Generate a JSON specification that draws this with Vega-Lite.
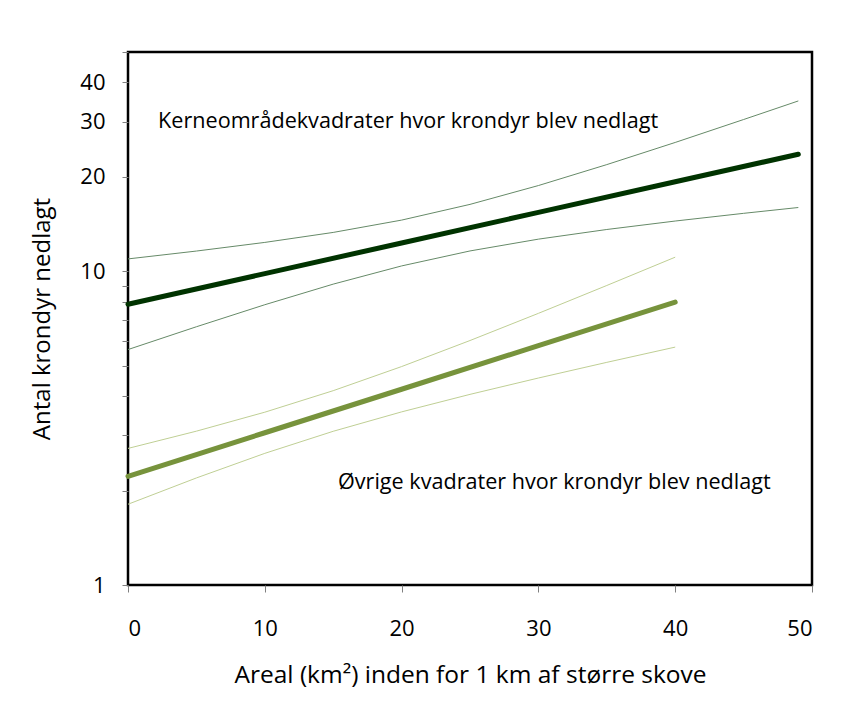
{
  "$schema": "https://vega.github.io/schema/vega-lite/v6.json",
  "width": 684,
  "height": 533,
  "autosize": {"type": "none"},
  "padding": {"left": 128, "top": 52, "right": 39, "bottom": 138},
  "background": "white",
  "config": {
    "view": {"stroke": "#000000", "strokeWidth": 2.5},
    "font": "Open Sans",
    "axis": {"labelFont": "Open Sans", "titleFont": "Open Sans", "labelColor": "#000000", "titleColor": "#000000", "titleFontWeight": "normal", "grid": false, "domain": false, "tickColor": "#808080", "tickWidth": 1}
  },
  "datasets": {
    "curves": [
      {"group": "kerne", "band": "fit", "x": 0, "y": 7.85},
      {"group": "kerne", "band": "fit", "x": 10, "y": 9.83},
      {"group": "kerne", "band": "fit", "x": 20, "y": 12.31},
      {"group": "kerne", "band": "fit", "x": 30, "y": 15.41},
      {"group": "kerne", "band": "fit", "x": 40, "y": 19.29},
      {"group": "kerne", "band": "fit", "x": 49, "y": 23.61},
      {"group": "kerne", "band": "upper", "x": 0, "y": 10.95},
      {"group": "kerne", "band": "upper", "x": 5, "y": 11.6},
      {"group": "kerne", "band": "upper", "x": 10, "y": 12.36},
      {"group": "kerne", "band": "upper", "x": 15, "y": 13.3},
      {"group": "kerne", "band": "upper", "x": 20, "y": 14.56},
      {"group": "kerne", "band": "upper", "x": 25, "y": 16.34},
      {"group": "kerne", "band": "upper", "x": 30, "y": 18.76},
      {"group": "kerne", "band": "upper", "x": 35, "y": 21.88},
      {"group": "kerne", "band": "upper", "x": 40, "y": 25.74},
      {"group": "kerne", "band": "upper", "x": 45, "y": 30.46},
      {"group": "kerne", "band": "upper", "x": 49, "y": 34.91},
      {"group": "kerne", "band": "lower", "x": 0, "y": 5.63},
      {"group": "kerne", "band": "lower", "x": 5, "y": 6.655},
      {"group": "kerne", "band": "lower", "x": 10, "y": 7.823},
      {"group": "kerne", "band": "lower", "x": 15, "y": 9.1},
      {"group": "kerne", "band": "lower", "x": 20, "y": 10.4},
      {"group": "kerne", "band": "lower", "x": 25, "y": 11.61},
      {"group": "kerne", "band": "lower", "x": 30, "y": 12.66},
      {"group": "kerne", "band": "lower", "x": 35, "y": 13.59},
      {"group": "kerne", "band": "lower", "x": 40, "y": 14.46},
      {"group": "kerne", "band": "lower", "x": 45, "y": 15.3},
      {"group": "kerne", "band": "lower", "x": 49, "y": 15.97},
      {"group": "oevrige", "band": "fit", "x": 0, "y": 2.22},
      {"group": "oevrige", "band": "fit", "x": 10, "y": 3.057},
      {"group": "oevrige", "band": "fit", "x": 20, "y": 4.207},
      {"group": "oevrige", "band": "fit", "x": 30, "y": 5.791},
      {"group": "oevrige", "band": "fit", "x": 40, "y": 7.973},
      {"group": "oevrige", "band": "upper", "x": 0, "y": 2.725},
      {"group": "oevrige", "band": "upper", "x": 5, "y": 3.093},
      {"group": "oevrige", "band": "upper", "x": 10, "y": 3.555},
      {"group": "oevrige", "band": "upper", "x": 15, "y": 4.163},
      {"group": "oevrige", "band": "upper", "x": 20, "y": 4.969},
      {"group": "oevrige", "band": "upper", "x": 25, "y": 6.016},
      {"group": "oevrige", "band": "upper", "x": 30, "y": 7.343},
      {"group": "oevrige", "band": "upper", "x": 35, "y": 9.011},
      {"group": "oevrige", "band": "upper", "x": 40, "y": 11.09},
      {"group": "oevrige", "band": "lower", "x": 0, "y": 1.809},
      {"group": "oevrige", "band": "lower", "x": 5, "y": 2.194},
      {"group": "oevrige", "band": "lower", "x": 10, "y": 2.628},
      {"group": "oevrige", "band": "lower", "x": 15, "y": 3.09},
      {"group": "oevrige", "band": "lower", "x": 20, "y": 3.563},
      {"group": "oevrige", "band": "lower", "x": 25, "y": 4.052},
      {"group": "oevrige", "band": "lower", "x": 30, "y": 4.568},
      {"group": "oevrige", "band": "lower", "x": 35, "y": 5.125},
      {"group": "oevrige", "band": "lower", "x": 40, "y": 5.732}
    ],
    "labels": [
      {"label": "Kerneområdekvadrater hvor krondyr blev nedlagt", "x": 2.2, "y": 30},
      {"label": "Øvrige kvadrater hvor krondyr blev nedlagt", "x": 15.35, "y": 2.11}
    ]
  },
  "layer": [
    {
      "data": {"name": "curves"},
      "transform": [{"filter": "datum.band !== 'fit'"}],
      "mark": {"type": "line", "strokeWidth": 1, "clip": true},
      "encoding": {
        "x": {"field": "x", "type": "quantitative", "scale": {"domain": [0, 50], "nice": false},
          "axis": {"values": [0, 10, 20, 30, 40, 50], "title": "Areal (km²) inden for 1 km af større skove", "labelFontSize": 22, "titleFontSize": 24.5, "tickSize": 7, "labelPadding": 26, "titlePadding": 24}},
        "y": {"field": "y", "type": "quantitative", "scale": {"type": "log", "domain": [1, 50], "nice": false},
          "axis": {"values": [1, 2, 3, 4, 5, 6, 7, 8, 9, 10, 20, 30, 40, 50], "labelExpr": "indexof([1,10,20,30,40], datum.value) >= 0 ? datum.label : ''", "title": "Antal krondyr nedlagt", "labelFontSize": 22, "titleFontSize": 24, "tickSize": 6, "labelPadding": 17, "titlePadding": 25}},
        "color": {"field": "group", "type": "nominal", "scale": {"domain": ["kerne", "oevrige"], "range": ["#668A68", "#BFCF94"]}, "legend": null},
        "detail": {"field": "band"}
      }
    },
    {
      "data": {"name": "curves"},
      "transform": [{"filter": "datum.band === 'fit'"}],
      "mark": {"type": "line", "strokeWidth": 5, "strokeCap": "round"},
      "encoding": {
        "x": {"field": "x", "type": "quantitative"},
        "y": {"field": "y", "type": "quantitative"},
        "color": {"field": "group", "type": "nominal", "scale": {"domain": ["kerne", "oevrige"], "range": ["#003300", "#77933C"]}, "legend": null}
      }
    },
    {
      "data": {"name": "labels"},
      "mark": {"type": "text", "align": "left", "baseline": "middle", "fontSize": 21.6, "font": "Open Sans", "color": "#000000"},
      "encoding": {
        "x": {"field": "x", "type": "quantitative"},
        "y": {"field": "y", "type": "quantitative"},
        "text": {"field": "label"}
      }
    }
  ],
  "resolve": {"scale": {"color": "independent"}}
}
